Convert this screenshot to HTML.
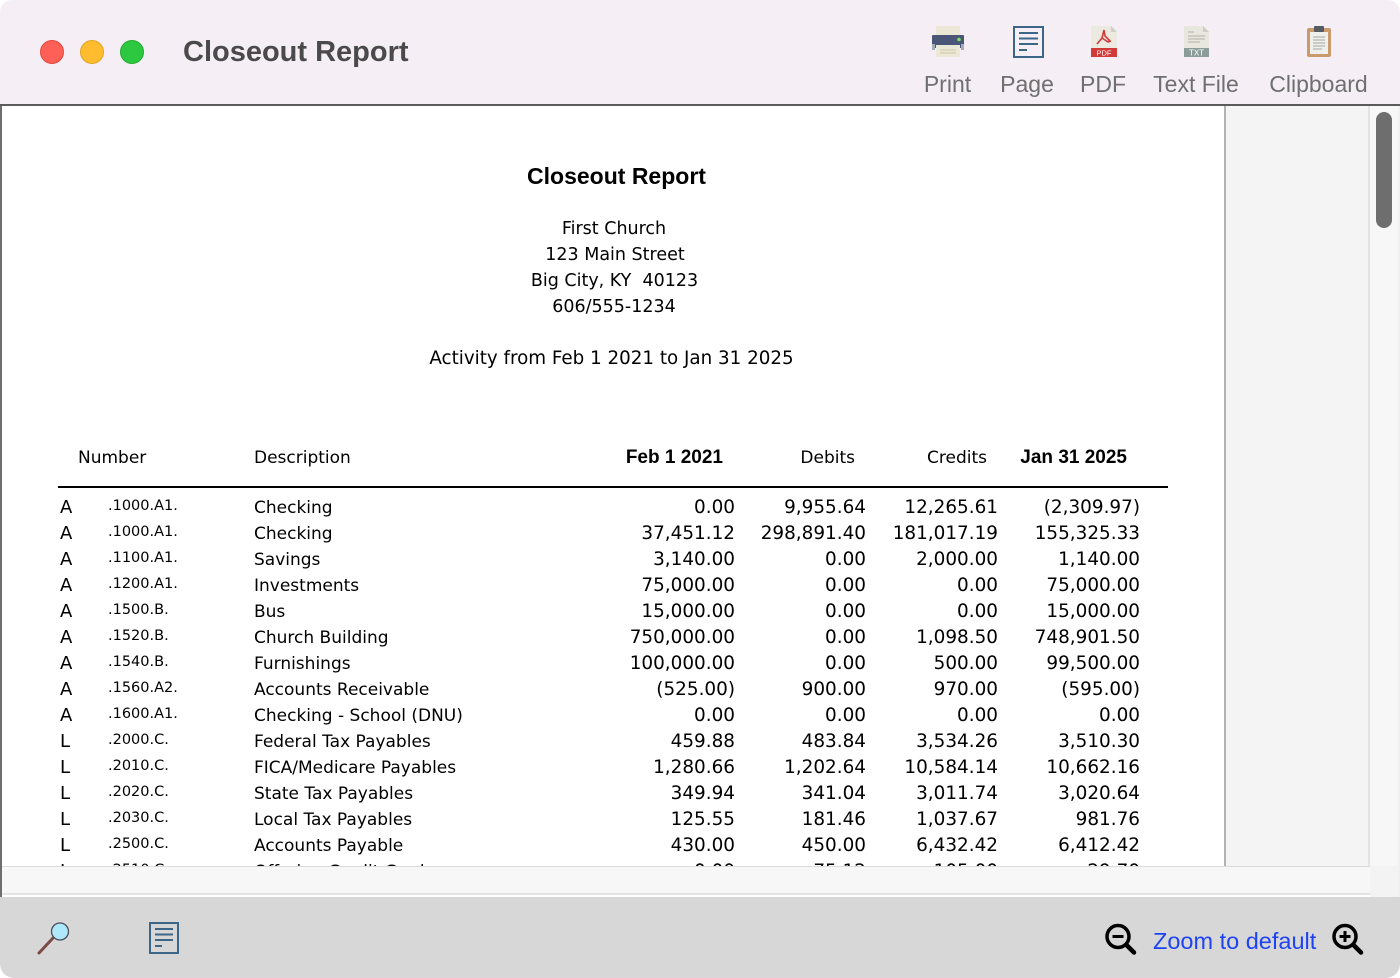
<!DOCTYPE html>
<html><head><meta charset="utf-8">
<style>
*{margin:0;padding:0;box-sizing:border-box}
html,body{width:1400px;height:978px;background:#fff;overflow:hidden}
body{position:relative;font-family:"DejaVu Sans","Liberation Sans",sans-serif;color:#000}
.abs{position:absolute}
#titlebar{left:0;top:0;width:1400px;height:104px;background:#f5eff5;border-radius:12px 12px 0 0}
#tbline{left:0;top:104px;width:1400px;height:2px;background:#5b5b5b}
.light{position:absolute;top:40px;width:24px;height:24px;border-radius:50%}
.wtitle{position:absolute;left:183px;top:38px;font:bold 29px/1 "Liberation Sans",sans-serif;color:#4a4a4a;white-space:nowrap}
.tlab{position:absolute;top:73px;width:120px;text-align:center;font:23px/1 "Liberation Sans",sans-serif;color:#6f6f6f;white-space:nowrap}
#leftedge{left:0;top:106px;width:2px;height:791px;background:#6e6e6e}
#page{left:2px;top:106px;width:1222px;height:760px;background:#fff}
#vline{left:1224px;top:106px;width:2px;height:760px;background:#b3b3b3}
#gray{left:1226px;top:106px;width:142px;height:760px;background:#f4f4f4}
#trackline{left:1368px;top:106px;width:2px;height:760px;background:#e3e3e3}
#track{left:1370px;top:106px;width:28px;height:760px;background:#f7f7f7}
#thumb{left:1376px;top:112px;width:16px;height:116px;border-radius:8px;background:#6e6e6e}
#rightedge{left:1398px;top:106px;width:2px;height:791px;background:#f0f0f0}
#hline1{left:2px;top:866px;width:1368px;height:1px;background:#dcdcdc}
#hbar{left:2px;top:867px;width:1368px;height:26px;background:#f7f7f7}
#hline2{left:2px;top:893px;width:1368px;height:2px;background:#e4e4e4}
#hwhite{left:2px;top:895px;width:1368px;height:2px;background:#fff}
#corner{left:1370px;top:866px;width:28px;height:31px;background:#f3f3f3}
#bottom{left:0;top:897px;width:1400px;height:81px;background:#d7d7d7;border-radius:0 0 14px 14px}
#clip{left:0;top:106px;width:1224px;height:760px;overflow:hidden}
#inner{position:absolute;left:0;top:-106px;width:1224px;height:1000px}
.ctr{position:absolute;left:414px;width:400px;text-align:center;line-height:1;white-space:nowrap}
.hd{position:absolute;top:449.6px;font-size:17px;line-height:1;white-space:nowrap}
.hb{position:absolute;top:447.9px;font:bold 19px/1 "Liberation Sans",sans-serif;white-space:nowrap}
.rule{position:absolute;left:58px;top:486px;width:1110px;height:2px;background:#000}
.r{position:absolute;left:0;width:1224px;height:26px}
.r div{position:absolute;line-height:1;white-space:nowrap}
.t{left:60px;top:0;font-size:18px}
.n{left:108px;top:0;font-size:14.5px}
.d{left:254px;top:1px;font-size:17px}
.v{top:0;font-size:18.4px;text-align:right}
.c1{right:489px}.c2{right:358px}.c3{right:226px}.c4{right:84px}
.zt{position:absolute;left:1153px;top:930px;font:23.5px/1 "Liberation Sans",sans-serif;color:#1e43f5;white-space:nowrap}
</style></head><body>

<div id="titlebar" class="abs"></div>
<div id="tbline" class="abs"></div>
<div class="light" style="left:40px;background:#fe5f57;border:1px solid #e2463f"></div>
<div class="light" style="left:80px;background:#febc2e;border:1px solid #e1a325"></div>
<div class="light" style="left:120px;background:#2bc840;border:1px solid #1fac2f"></div>
<div class="wtitle">Closeout Report</div>

<svg class="abs" style="left:0;top:0" width="1400" height="104">
  <rect x="936" y="26" width="24" height="11" fill="#ebe6d6"/>
  <rect x="932" y="35" width="32" height="13" rx="1" fill="#4b5577"/>
  <rect x="932" y="44" width="3" height="6" fill="#a5abb8"/>
  <rect x="961" y="44" width="3" height="6" fill="#a5abb8"/>
  <circle cx="959" cy="39.5" r="1.8" fill="#7ee05a"/>
  <rect x="936" y="45" width="24" height="12" fill="#ece8d8"/>
  <line x1="940" y1="50" x2="956" y2="50" stroke="#cfc6a6" stroke-width="1"/>
  <line x1="940" y1="53" x2="956" y2="53" stroke="#cfc6a6" stroke-width="1"/>
  <rect x="1014" y="27" width="29" height="30" fill="none" stroke="#3c6688" stroke-width="2"/>
  <line x1="1019" y1="33" x2="1038" y2="33" stroke="#3c6688" stroke-width="2"/>
  <line x1="1019" y1="38.5" x2="1038" y2="38.5" stroke="#3c6688" stroke-width="2"/>
  <line x1="1019" y1="44" x2="1038" y2="44" stroke="#3c6688" stroke-width="2"/>
  <line x1="1019" y1="50" x2="1027" y2="50" stroke="#3c6688" stroke-width="2"/>
  <polygon points="1091,26 1111,26 1117,32 1117,57 1091,57" fill="#ebe9e0"/>
  <polygon points="1111,26 1117,32 1111,32" fill="#d0cdc2"/>
  <path d="M1104,30 L1102,38 L1097,44 M1102,38 L1108,42 L1111,41 M1104,30 L1105,36 L1110,41" fill="none" stroke="#d33a3a" stroke-width="1.6"/>
  <rect x="1091" y="48" width="26" height="9" fill="#d23a3a"/>
  <text x="1104" y="55.5" font-family="Liberation Sans,sans-serif" font-size="7.5" fill="#fff" text-anchor="middle">PDF</text>
  <polygon points="1184,26 1203,26 1209,32 1209,57 1184,57" fill="#e8e7dd"/>
  <polygon points="1203,26 1209,32 1203,32" fill="#cfcdc2"/>
  <line x1="1188" y1="32" x2="1194" y2="32" stroke="#b5b2a6" stroke-width="1"/>
  <line x1="1188" y1="36" x2="1205" y2="36" stroke="#b5b2a6" stroke-width="1"/>
  <line x1="1188" y1="39" x2="1205" y2="39" stroke="#b5b2a6" stroke-width="1"/>
  <line x1="1188" y1="42" x2="1200" y2="42" stroke="#b5b2a6" stroke-width="1"/>
  <rect x="1184" y="48" width="25" height="9" fill="#8c9c99"/>
  <text x="1196.5" y="55.5" font-family="Liberation Sans,sans-serif" font-size="8" fill="#fff" text-anchor="middle">TXT</text>
  <rect x="1307" y="28" width="24" height="29" rx="2" fill="#c99a6c"/>
  <rect x="1310" y="32" width="18" height="22" fill="#efefeb"/>
  <rect x="1314" y="26" width="10" height="6" rx="1" fill="#555b63"/>
  <line x1="1313" y1="37" x2="1325" y2="37" stroke="#a4a4a0" stroke-width="1"/>
  <line x1="1313" y1="40" x2="1325" y2="40" stroke="#a4a4a0" stroke-width="1"/>
  <line x1="1313" y1="43" x2="1325" y2="43" stroke="#a4a4a0" stroke-width="1"/>
  <line x1="1313" y1="46" x2="1325" y2="46" stroke="#a4a4a0" stroke-width="1"/>
  <line x1="1313" y1="49" x2="1322" y2="49" stroke="#a4a4a0" stroke-width="1"/>
</svg>
<div class="tlab" style="left:887.5px">Print</div>
<div class="tlab" style="left:967px">Page</div>
<div class="tlab" style="left:1043px">PDF</div>
<div class="tlab" style="left:1136px">Text File</div>
<div class="tlab" style="left:1258.5px">Clipboard</div>

<div id="leftedge" class="abs"></div>
<div id="page" class="abs"></div>
<div id="vline" class="abs"></div>
<div id="gray" class="abs"></div>
<div id="trackline" class="abs"></div>
<div id="track" class="abs"></div>
<div id="thumb" class="abs"></div>
<div id="rightedge" class="abs"></div>
<div id="hline1" class="abs"></div>
<div id="hbar" class="abs"></div>
<div id="hline2" class="abs"></div>
<div id="hwhite" class="abs"></div>
<div id="corner" class="abs"></div>

<div id="clip" class="abs"><div id="inner">
  <div class="ctr" style="top:164.5px;left:416.5px;font:bold 23px/1 'Liberation Sans',sans-serif">Closeout Report</div>
  <div class="ctr" style="top:221px;font-size:17.5px">First Church</div>
  <div class="ctr" style="top:247px;font-size:17.5px;left:415px">123 Main Street</div>
  <div class="ctr" style="top:273px;font-size:17.5px;left:414.5px">Big City, KY&nbsp; 40123</div>
  <div class="ctr" style="top:299px;font-size:17.5px">606/555-1234</div>
  <div class="ctr" style="top:349.5px;font-size:18.3px;left:411.5px">Activity from Feb 1 2021 to Jan 31 2025</div>

  <div class="hd" style="left:78px">Number</div>
  <div class="hd" style="left:254px">Description</div>
  <div class="hb" style="right:501px">Feb 1 2021</div>
  <div class="hd" style="right:369px">Debits</div>
  <div class="hd" style="right:237px">Credits</div>
  <div class="hb" style="right:97px">Jan 31 2025</div>
  <div class="rule"></div>

  <div class="r" style="top:499px"><div class="t">A</div><div class="n">.1000.A1.</div><div class="d">Checking</div><div class="v c1">0.00</div><div class="v c2">9,955.64</div><div class="v c3">12,265.61</div><div class="v c4">(2,309.97)</div></div>
  <div class="r" style="top:525px"><div class="t">A</div><div class="n">.1000.A1.</div><div class="d">Checking</div><div class="v c1">37,451.12</div><div class="v c2">298,891.40</div><div class="v c3">181,017.19</div><div class="v c4">155,325.33</div></div>
  <div class="r" style="top:551px"><div class="t">A</div><div class="n">.1100.A1.</div><div class="d">Savings</div><div class="v c1">3,140.00</div><div class="v c2">0.00</div><div class="v c3">2,000.00</div><div class="v c4">1,140.00</div></div>
  <div class="r" style="top:577px"><div class="t">A</div><div class="n">.1200.A1.</div><div class="d">Investments</div><div class="v c1">75,000.00</div><div class="v c2">0.00</div><div class="v c3">0.00</div><div class="v c4">75,000.00</div></div>
  <div class="r" style="top:603px"><div class="t">A</div><div class="n">.1500.B.</div><div class="d">Bus</div><div class="v c1">15,000.00</div><div class="v c2">0.00</div><div class="v c3">0.00</div><div class="v c4">15,000.00</div></div>
  <div class="r" style="top:629px"><div class="t">A</div><div class="n">.1520.B.</div><div class="d">Church Building</div><div class="v c1">750,000.00</div><div class="v c2">0.00</div><div class="v c3">1,098.50</div><div class="v c4">748,901.50</div></div>
  <div class="r" style="top:655px"><div class="t">A</div><div class="n">.1540.B.</div><div class="d">Furnishings</div><div class="v c1">100,000.00</div><div class="v c2">0.00</div><div class="v c3">500.00</div><div class="v c4">99,500.00</div></div>
  <div class="r" style="top:681px"><div class="t">A</div><div class="n">.1560.A2.</div><div class="d">Accounts Receivable</div><div class="v c1">(525.00)</div><div class="v c2">900.00</div><div class="v c3">970.00</div><div class="v c4">(595.00)</div></div>
  <div class="r" style="top:707px"><div class="t">A</div><div class="n">.1600.A1.</div><div class="d">Checking - School (DNU)</div><div class="v c1">0.00</div><div class="v c2">0.00</div><div class="v c3">0.00</div><div class="v c4">0.00</div></div>
  <div class="r" style="top:733px"><div class="t">L</div><div class="n">.2000.C.</div><div class="d">Federal Tax Payables</div><div class="v c1">459.88</div><div class="v c2">483.84</div><div class="v c3">3,534.26</div><div class="v c4">3,510.30</div></div>
  <div class="r" style="top:759px"><div class="t">L</div><div class="n">.2010.C.</div><div class="d">FICA/Medicare Payables</div><div class="v c1">1,280.66</div><div class="v c2">1,202.64</div><div class="v c3">10,584.14</div><div class="v c4">10,662.16</div></div>
  <div class="r" style="top:785px"><div class="t">L</div><div class="n">.2020.C.</div><div class="d">State Tax Payables</div><div class="v c1">349.94</div><div class="v c2">341.04</div><div class="v c3">3,011.74</div><div class="v c4">3,020.64</div></div>
  <div class="r" style="top:811px"><div class="t">L</div><div class="n">.2030.C.</div><div class="d">Local Tax Payables</div><div class="v c1">125.55</div><div class="v c2">181.46</div><div class="v c3">1,037.67</div><div class="v c4">981.76</div></div>
  <div class="r" style="top:837px"><div class="t">L</div><div class="n">.2500.C.</div><div class="d">Accounts Payable</div><div class="v c1">430.00</div><div class="v c2">450.00</div><div class="v c3">6,432.42</div><div class="v c4">6,412.42</div></div>
  <div class="r" style="top:863px"><div class="t">L</div><div class="n">.2510.C.</div><div class="d">Offering Credit Card</div><div class="v c1">0.00</div><div class="v c2">75.12</div><div class="v c3">105.00</div><div class="v c4">29.70</div></div>
</div></div>

<div id="bottom" class="abs"></div>
<svg class="abs" style="left:0;top:897px" width="1400" height="81">
  <g transform="translate(0,-897)">
    <line x1="53" y1="938" x2="39" y2="953" stroke="#7b4b45" stroke-width="3" stroke-linecap="round"/>
    <circle cx="60" cy="931.5" r="8.5" fill="#aee8fb" stroke="#4d4d5c" stroke-width="1.3"/>
    <rect x="150" y="923" width="28" height="30" fill="none" stroke="#3c6688" stroke-width="2"/>
    <line x1="155" y1="929" x2="173" y2="929" stroke="#3c6688" stroke-width="2"/>
    <line x1="155" y1="934.5" x2="173" y2="934.5" stroke="#3c6688" stroke-width="2"/>
    <line x1="155" y1="940" x2="173" y2="940" stroke="#3c6688" stroke-width="2"/>
    <line x1="155" y1="946" x2="162" y2="946" stroke="#3c6688" stroke-width="2"/>
    <circle cx="1118" cy="936.5" r="11" fill="none" stroke="#000" stroke-width="3.5"/>
    <line x1="1112.5" y1="936.5" x2="1123.5" y2="936.5" stroke="#000" stroke-width="3"/>
    <line x1="1126.5" y1="945" x2="1134" y2="952.5" stroke="#000" stroke-width="4.5" stroke-linecap="round"/>
    <circle cx="1345" cy="936.5" r="11" fill="none" stroke="#000" stroke-width="3.5"/>
    <line x1="1339.5" y1="936.5" x2="1350.5" y2="936.5" stroke="#000" stroke-width="3"/>
    <line x1="1345" y1="931" x2="1345" y2="942" stroke="#000" stroke-width="3"/>
    <line x1="1353.5" y1="945" x2="1361" y2="952.5" stroke="#000" stroke-width="4.5" stroke-linecap="round"/>
  </g>
</svg>
<div class="zt">Zoom to default</div>

</body></html>
